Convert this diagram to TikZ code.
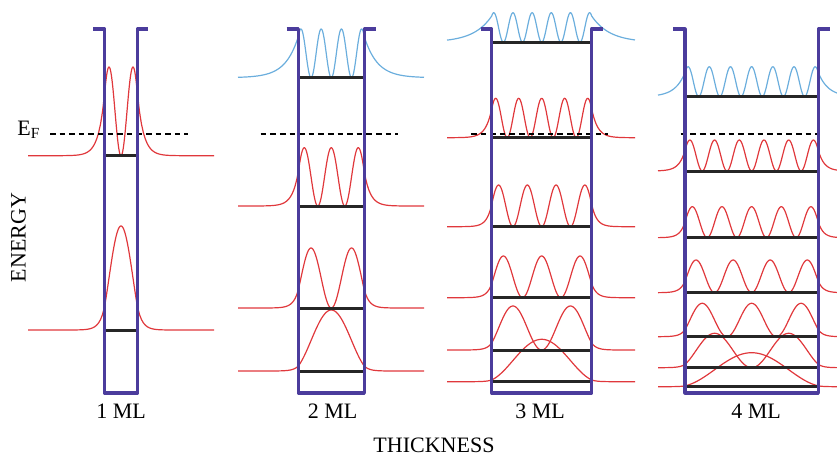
\documentclass[tikz,border=0pt]{standalone}
\usepackage{fontspec}
\setmainfont{Liberation Serif}
\definecolor{wellwall}{HTML}{4B3C9C}
\definecolor{boundred}{HTML}{E0383C}
\definecolor{freeblue}{HTML}{6BAEDD}

% |psi|^2 : style, left wall, right wall, level, height, peaks, decay, left end, right end
\newcommand{\wavefn}[9]{%
  \pgfmathsetmacro{\wfk}{180*#6/(#3-#2+15)}%
  \pgfmathsetmacro{\wfedge}{sin(7.5*\wfk)*sin(7.5*\wfk)}%
  \draw[#1] plot[domain=#8:#2, samples=40] (\x,{#4-#5*\wfedge*exp(max(-(#2-\x)/#7,-8))})
    -- plot[domain=#2:#3, samples=160] (\x,{#4-#5*sin((\x-#2+7.5)*\wfk)*sin((\x-#2+7.5)*\wfk)})
    -- plot[domain=#3:#9, samples=40] (\x,{#4-#5*\wfedge*exp(max(-(\x-#3)/#7,-8))});
}

\tikzset{
  qwwall/.style={wellwall, line width=1.6pt, line join=round},
  qwlevel/.style={black!85, line width=1.5pt},
  qwbound/.style={boundred, line width=0.6pt},
  qwfree/.style={freeblue, line width=0.6pt},
  qwfermi/.style={black, dash pattern=on 2.8pt off 2pt, line width=0.55pt},
  lbl/.style={font=\fontsize{11}{13}\selectfont, inner sep=0pt}
}

\begin{document}
\begin{tikzpicture}[x=0.5pt, y=-0.5pt]
  \useasboundingbox (0,0) rectangle (837,457);

  % 1 ML
  \wavefn{qwbound}{104.5}{137.5}{330}{104}{1}{5}{28}{214}
  \wavefn{qwbound}{104.5}{137.5}{155.7}{88.7}{2}{6}{28}{214}
  \draw[qwfermi] (50,134) -- (188,134);
  \draw[qwlevel] (104.5,330) -- (137.5,330);
  \draw[qwlevel] (104.5,155.7) -- (137.5,155.7);
  \draw[qwwall] (93,29) -- (104.5,29) -- (104.5,393) -- (137.5,393) -- (137.5,29) -- (148,29);

  % 2 ML
  \wavefn{qwbound}{298.3}{364.3}{371}{61}{1}{5}{238}{424}
  \wavefn{qwbound}{298.3}{364.3}{308}{60}{2}{5}{238}{424}
  \wavefn{qwbound}{298.3}{364.3}{206}{58.3}{3}{6}{238}{424}
  \wavefn{qwfree}{298.3}{364.3}{77.7}{48.7}{4}{13}{238}{424}
  \draw[qwfermi] (260.7,134) -- (398,134);
  \foreach \lev in {371,308,206,77.7}
    \draw[qwlevel] (298.3,\lev) -- (364.3,\lev);
  \draw[qwwall] (286.7,29) -- (298.3,29) -- (298.3,393) -- (364.3,393) -- (364.3,29) -- (375.7,29);

  % 3 ML
  \wavefn{qwbound}{491.7}{591.7}{381.7}{42.4}{1}{5}{447}{635}
  \wavefn{qwbound}{491.7}{591.7}{350}{44}{2}{5}{447}{635}
  \wavefn{qwbound}{491.7}{591.7}{297.7}{41.7}{3}{5}{447}{635}
  \wavefn{qwbound}{491.7}{591.7}{226.7}{41.7}{4}{5}{447}{635}
  \wavefn{qwbound}{491.7}{591.7}{137.7}{39.4}{5}{6}{447}{635}
  \wavefn{qwfree}{491.7}{591.7}{42.3}{29.6}{6}{18}{447}{635}
  \draw[qwfermi] (471,134) -- (608,134);
  \foreach \lev in {381.7,350,297.7,226.7,137.7,42.3}
    \draw[qwlevel] (491.7,\lev) -- (591.7,\lev);
  \draw[qwwall] (480.7,29) -- (491.7,29) -- (491.7,393) -- (591.7,393) -- (591.7,29) -- (602.7,29);

  % 4 ML
  \wavefn{qwbound}{685}{818.3}{386.7}{34}{1}{5}{658}{837}
  \wavefn{qwbound}{685}{818.3}{367.7}{34.4}{2}{5}{658}{837}
  \wavefn{qwbound}{685}{818.3}{336.7}{33.4}{3}{5}{658}{837}
  \wavefn{qwbound}{685}{818.3}{292.7}{32.7}{4}{5}{658}{837}
  \wavefn{qwbound}{685}{818.3}{237.7}{31}{5}{5}{658}{837}
  \wavefn{qwbound}{685}{818.3}{171}{31}{6}{6}{658}{837}
  \wavefn{qwfree}{685}{818.3}{96.7}{30}{7}{10}{658}{837}
  \draw[qwfermi] (680.7,134) -- (820,134);
  \foreach \lev in {386.7,367.7,336.7,292.7,237.7,171,96.7}
    \draw[qwlevel] (685,\lev) -- (818.3,\lev);
  \draw[qwwall] (673.3,29) -- (685,29) -- (685,393) -- (818.3,393) -- (818.3,29) -- (830,29);

  % Labels
  \node[lbl, anchor=base west] (ef) at (17,135) {E\textsubscript{F}};
  \node[lbl, rotate=90] (energy) at (18.5,237.5) {ENERGY};
  \node[lbl, anchor=base] (ml1) at (121,418) {1 ML};
  \node[lbl, anchor=base] (ml2) at (332.5,418) {2 ML};
  \node[lbl, anchor=base] (ml3) at (540,418) {3 ML};
  \node[lbl, anchor=base] (ml4) at (756,418) {4 ML};
  \node[lbl, anchor=base] (thick) at (434,452) {THICKNESS};
\end{tikzpicture}
\end{document}
